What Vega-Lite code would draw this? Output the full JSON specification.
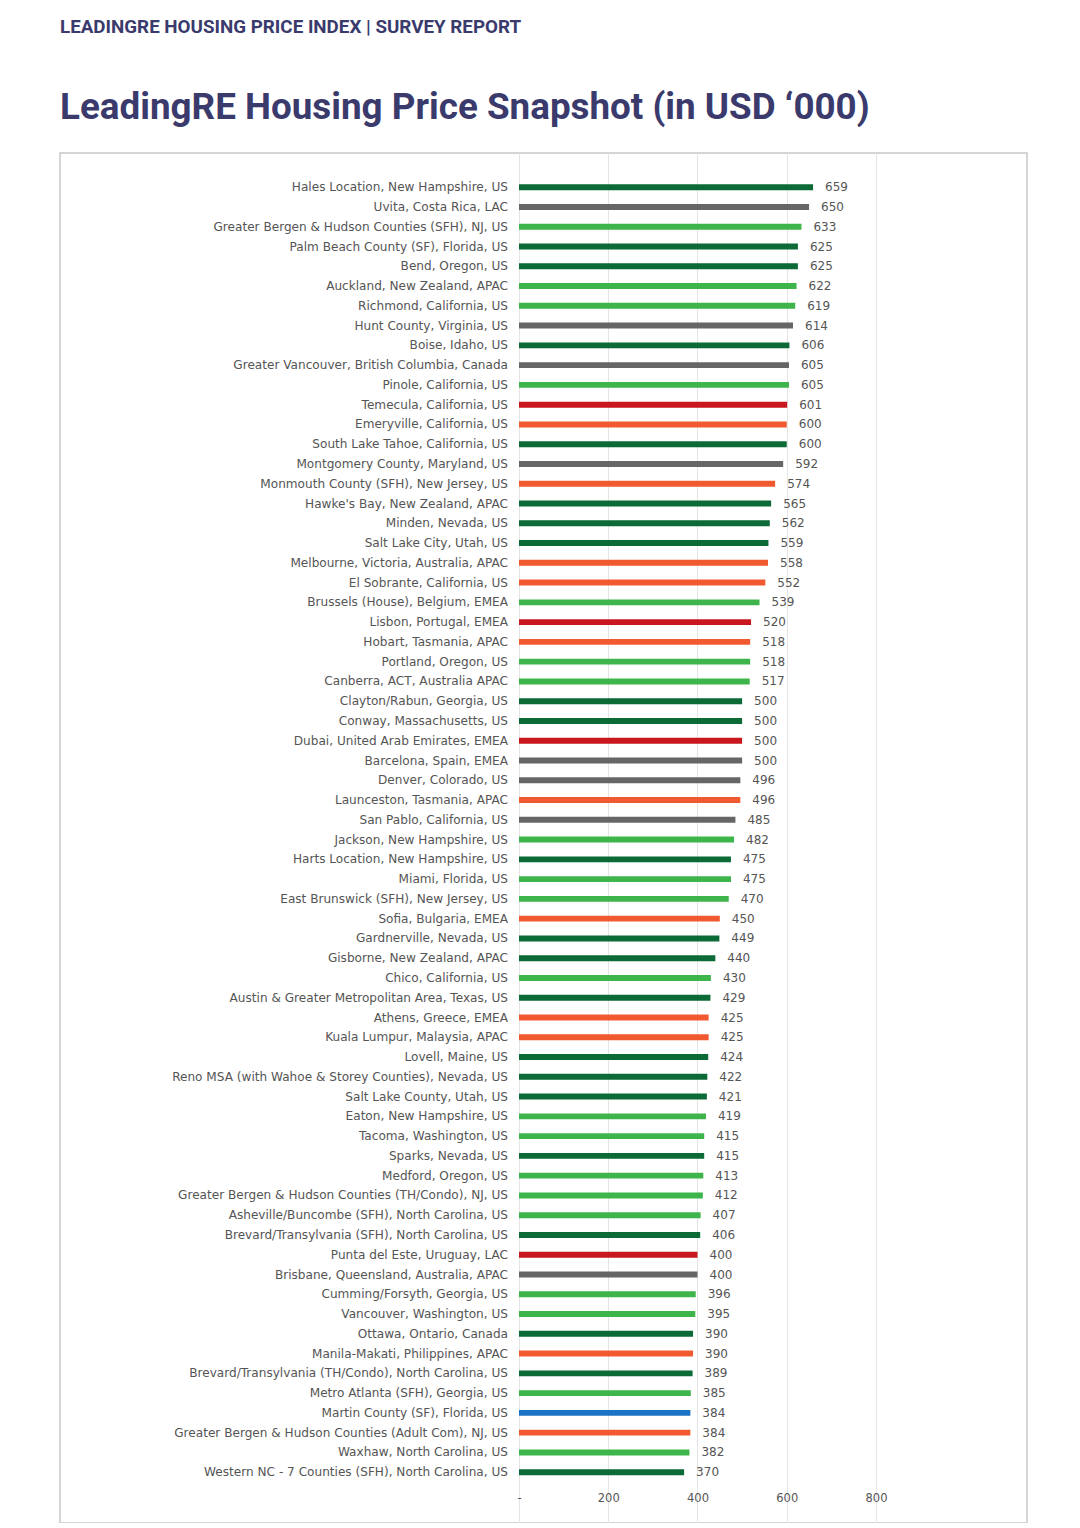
{
  "$schema": "https://vega.github.io/schema/vega-lite/v6.json",
  "width": 967,
  "height": 1370,
  "padding": {"left": 60, "right": 52, "top": 18, "bottom": 0},
  "background": "#ffffff",
  "title": {
    "text": "LEADINGRE HOUSING PRICE INDEX | SURVEY REPORT",
    "subtitle": "LeadingRE Housing Price Snapshot (in USD ‘000)",
    "anchor": "start",
    "frame": "group",
    "font": "Roboto",
    "fontSize": 18.8,
    "fontWeight": "bold",
    "color": "#3a3a6c",
    "subtitleFont": "Roboto",
    "subtitleFontSize": 36.8,
    "subtitleFontWeight": "bold",
    "subtitleColor": "#3a3a6c",
    "subtitlePadding": 53,
    "offset": 26
  },
  "config": {
    "view": {"stroke": "#c8c8c8", "strokeWidth": 1.5},
    "font": "DejaVu Sans"
  },
  "data": {
    "values": [
      {"location": "Hales Location, New Hampshire, US", "value": 659, "group": "1"},
      {"location": "Uvita, Costa Rica, LAC", "value": 650, "group": "3"},
      {"location": "Greater Bergen & Hudson Counties (SFH), NJ, US", "value": 633, "group": "2"},
      {"location": "Palm Beach County (SF), Florida, US", "value": 625, "group": "1"},
      {"location": "Bend, Oregon, US", "value": 625, "group": "1"},
      {"location": "Auckland, New Zealand, APAC", "value": 622, "group": "2"},
      {"location": "Richmond, California, US", "value": 619, "group": "2"},
      {"location": "Hunt County, Virginia, US", "value": 614, "group": "3"},
      {"location": "Boise, Idaho, US", "value": 606, "group": "1"},
      {"location": "Greater Vancouver, British Columbia, Canada", "value": 605, "group": "3"},
      {"location": "Pinole, California, US", "value": 605, "group": "2"},
      {"location": "Temecula, California, US", "value": 601, "group": "4"},
      {"location": "Emeryville, California, US", "value": 600, "group": "5"},
      {"location": "South Lake Tahoe, California, US", "value": 600, "group": "1"},
      {"location": "Montgomery County, Maryland, US", "value": 592, "group": "3"},
      {"location": "Monmouth County (SFH), New Jersey, US", "value": 574, "group": "5"},
      {"location": "Hawke's Bay, New Zealand, APAC", "value": 565, "group": "1"},
      {"location": "Minden, Nevada, US", "value": 562, "group": "1"},
      {"location": "Salt Lake City, Utah, US", "value": 559, "group": "1"},
      {"location": "Melbourne, Victoria, Australia, APAC", "value": 558, "group": "5"},
      {"location": "El Sobrante, California, US", "value": 552, "group": "5"},
      {"location": "Brussels (House), Belgium, EMEA", "value": 539, "group": "2"},
      {"location": "Lisbon, Portugal, EMEA", "value": 520, "group": "4"},
      {"location": "Hobart, Tasmania, APAC", "value": 518, "group": "5"},
      {"location": "Portland, Oregon, US", "value": 518, "group": "2"},
      {"location": "Canberra, ACT, Australia APAC", "value": 517, "group": "2"},
      {"location": "Clayton/Rabun, Georgia, US", "value": 500, "group": "1"},
      {"location": "Conway, Massachusetts, US", "value": 500, "group": "1"},
      {"location": "Dubai, United Arab Emirates, EMEA", "value": 500, "group": "4"},
      {"location": "Barcelona, Spain, EMEA", "value": 500, "group": "3"},
      {"location": "Denver, Colorado, US", "value": 496, "group": "3"},
      {"location": "Launceston, Tasmania, APAC", "value": 496, "group": "5"},
      {"location": "San Pablo, California, US", "value": 485, "group": "3"},
      {"location": "Jackson, New Hampshire, US", "value": 482, "group": "2"},
      {"location": "Harts Location, New Hampshire, US", "value": 475, "group": "1"},
      {"location": "Miami, Florida, US", "value": 475, "group": "2"},
      {"location": "East Brunswick (SFH), New Jersey, US", "value": 470, "group": "2"},
      {"location": "Sofia, Bulgaria, EMEA", "value": 450, "group": "5"},
      {"location": "Gardnerville, Nevada, US", "value": 449, "group": "1"},
      {"location": "Gisborne, New Zealand, APAC", "value": 440, "group": "1"},
      {"location": "Chico, California, US", "value": 430, "group": "2"},
      {"location": "Austin & Greater Metropolitan Area, Texas, US", "value": 429, "group": "1"},
      {"location": "Athens, Greece, EMEA", "value": 425, "group": "5"},
      {"location": "Kuala Lumpur, Malaysia, APAC", "value": 425, "group": "5"},
      {"location": "Lovell, Maine, US", "value": 424, "group": "1"},
      {"location": "Reno MSA (with Wahoe & Storey Counties), Nevada, US", "value": 422, "group": "1"},
      {"location": "Salt Lake County, Utah, US", "value": 421, "group": "1"},
      {"location": "Eaton, New Hampshire, US", "value": 419, "group": "2"},
      {"location": "Tacoma, Washington, US", "value": 415, "group": "2"},
      {"location": "Sparks, Nevada, US", "value": 415, "group": "1"},
      {"location": "Medford, Oregon, US", "value": 413, "group": "2"},
      {"location": "Greater Bergen & Hudson Counties (TH/Condo), NJ, US", "value": 412, "group": "2"},
      {"location": "Asheville/Buncombe (SFH), North Carolina, US", "value": 407, "group": "2"},
      {"location": "Brevard/Transylvania (SFH), North Carolina, US", "value": 406, "group": "1"},
      {"location": "Punta del Este, Uruguay, LAC", "value": 400, "group": "4"},
      {"location": "Brisbane, Queensland, Australia, APAC", "value": 400, "group": "3"},
      {"location": "Cumming/Forsyth, Georgia, US", "value": 396, "group": "2"},
      {"location": "Vancouver, Washington, US", "value": 395, "group": "2"},
      {"location": "Ottawa, Ontario, Canada", "value": 390, "group": "1"},
      {"location": "Manila-Makati, Philippines, APAC", "value": 390, "group": "5"},
      {"location": "Brevard/Transylvania (TH/Condo), North Carolina, US", "value": 389, "group": "1"},
      {"location": "Metro Atlanta (SFH), Georgia, US", "value": 385, "group": "2"},
      {"location": "Martin County (SF), Florida, US", "value": 384, "group": "6"},
      {"location": "Greater Bergen & Hudson Counties (Adult Com), NJ, US", "value": 384, "group": "5"},
      {"location": "Waxhaw, North Carolina, US", "value": 382, "group": "2"},
      {"location": "Western NC - 7 Counties (SFH), North Carolina, US", "value": 370, "group": "1"}
    ]
  },
  "encoding": {
    "y": {
      "field": "location",
      "type": "nominal",
      "axis": null,
      "scale": {
        "domain": [
          "Hales Location, New Hampshire, US",
          "Uvita, Costa Rica, LAC",
          "Greater Bergen & Hudson Counties (SFH), NJ, US",
          "Palm Beach County (SF), Florida, US",
          "Bend, Oregon, US",
          "Auckland, New Zealand, APAC",
          "Richmond, California, US",
          "Hunt County, Virginia, US",
          "Boise, Idaho, US",
          "Greater Vancouver, British Columbia, Canada",
          "Pinole, California, US",
          "Temecula, California, US",
          "Emeryville, California, US",
          "South Lake Tahoe, California, US",
          "Montgomery County, Maryland, US",
          "Monmouth County (SFH), New Jersey, US",
          "Hawke's Bay, New Zealand, APAC",
          "Minden, Nevada, US",
          "Salt Lake City, Utah, US",
          "Melbourne, Victoria, Australia, APAC",
          "El Sobrante, California, US",
          "Brussels (House), Belgium, EMEA",
          "Lisbon, Portugal, EMEA",
          "Hobart, Tasmania, APAC",
          "Portland, Oregon, US",
          "Canberra, ACT, Australia APAC",
          "Clayton/Rabun, Georgia, US",
          "Conway, Massachusetts, US",
          "Dubai, United Arab Emirates, EMEA",
          "Barcelona, Spain, EMEA",
          "Denver, Colorado, US",
          "Launceston, Tasmania, APAC",
          "San Pablo, California, US",
          "Jackson, New Hampshire, US",
          "Harts Location, New Hampshire, US",
          "Miami, Florida, US",
          "East Brunswick (SFH), New Jersey, US",
          "Sofia, Bulgaria, EMEA",
          "Gardnerville, Nevada, US",
          "Gisborne, New Zealand, APAC",
          "Chico, California, US",
          "Austin & Greater Metropolitan Area, Texas, US",
          "Athens, Greece, EMEA",
          "Kuala Lumpur, Malaysia, APAC",
          "Lovell, Maine, US",
          "Reno MSA (with Wahoe & Storey Counties), Nevada, US",
          "Salt Lake County, Utah, US",
          "Eaton, New Hampshire, US",
          "Tacoma, Washington, US",
          "Sparks, Nevada, US",
          "Medford, Oregon, US",
          "Greater Bergen & Hudson Counties (TH/Condo), NJ, US",
          "Asheville/Buncombe (SFH), North Carolina, US",
          "Brevard/Transylvania (SFH), North Carolina, US",
          "Punta del Este, Uruguay, LAC",
          "Brisbane, Queensland, Australia, APAC",
          "Cumming/Forsyth, Georgia, US",
          "Vancouver, Washington, US",
          "Ottawa, Ontario, Canada",
          "Manila-Makati, Philippines, APAC",
          "Brevard/Transylvania (TH/Condo), North Carolina, US",
          "Metro Atlanta (SFH), Georgia, US",
          "Martin County (SF), Florida, US",
          "Greater Bergen & Hudson Counties (Adult Com), NJ, US",
          "Waxhaw, North Carolina, US",
          "Western NC - 7 Counties (SFH), North Carolina, US",
          " ",
          "  "
        ],
        "paddingInner": 0.7,
        "paddingOuter": 1,
        "align": 0.79,
        "round": false
      }
    }
  },
  "layer": [
    {
      "mark": {"type": "bar"},
      "encoding": {
        "x": {
          "field": "value",
          "type": "quantitative",
          "scale": {"domain": [-1028.6, 1138.4], "nice": false, "zero": false},
          "axis": {
            "values": [0, 200, 400, 600, 800],
            "labelExpr": "datum.value === 0 ? '-' : datum.label",
            "title": null,
            "grid": true,
            "gridColor": "#e4e4e4",
            "gridWidth": 1,
            "domain": false,
            "ticks": false,
            "offset": -33,
            "labelPadding": 2,
            "labelFont": "DejaVu Sans",
            "labelFontSize": 11.5,
            "labelColor": "#555555"
          }
        },
        "color": {
          "field": "group",
          "type": "nominal",
          "legend": null,
          "scale": {
            "domain": ["1", "2", "3", "4", "5", "6"],
            "range": ["#0b6a36", "#3db54a", "#666666", "#c8171e", "#f15a30", "#1b73c6"]
          }
        }
      }
    },
    {
      "mark": {"type": "text", "align": "right", "baseline": "middle", "dx": -11, "fontSize": 12.1, "font": "DejaVu Sans", "color": "#555555"},
      "encoding": {
        "x": {"datum": 0, "type": "quantitative"},
        "text": {"field": "location", "type": "nominal"}
      }
    },
    {
      "mark": {"type": "text", "align": "left", "baseline": "middle", "dx": 12, "fontSize": 12, "font": "DejaVu Sans", "color": "#555555"},
      "encoding": {
        "x": {"field": "value", "type": "quantitative"},
        "text": {"field": "value", "type": "quantitative"}
      }
    }
  ]
}
